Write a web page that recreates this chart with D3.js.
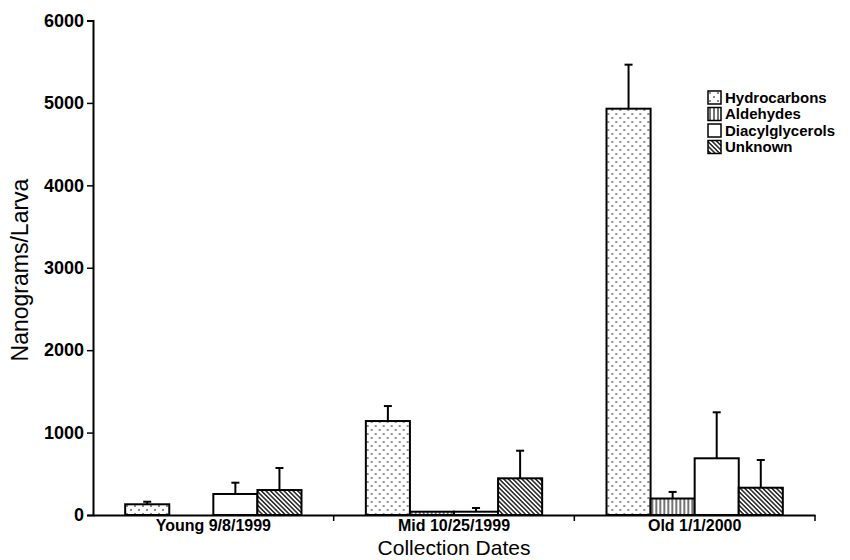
<!DOCTYPE html>
<html>
<head>
<meta charset="utf-8">
<script src="https://cdn.jsdelivr.net/npm/d3@7"></script>
<style>
  body { margin: 0; background: #fff; }
  svg { font-family: "Liberation Sans", Arial, sans-serif; }
</style>
</head>
<body>
<div id="chart"></div>
<script>
/* Lipid classes per larva, grouped bar chart with error bars */

const categories = ["Young 9/8/1999", "Mid 10/25/1999", "Old 1/1/2000"];
const series = ["Hydrocarbons", "Aldehydes", "Diacylglycerols", "Unknown"];

// mean values per collection date
const hydrocarbons = [130, 1140, 4930];
const aldehydes = [0, 40, 200];
const diacylglycerols = [255, 40, 688];
const unknown = [303, 445, 331];

// upper error (SD) per collection date
const hydrocarbonsErr = [31, 182, 534];
const aldehydesErr = [0, 0, 80];
const diacylglycerolsErr = [137, 45, 558];
const unknownErr = [267, 335, 336];

const yTicks = [0, 1000, 2000, 3000, 4000, 5000, 6000];

const values = [hydrocarbons, aldehydes, diacylglycerols, unknown];
const errors = [hydrocarbonsErr, aldehydesErr, diacylglycerolsErr, unknownErr];

const data = categories.map((c, i) => ({
    category: c,
    bars: series.map((s, j) => ({series: s, value: values[j][i], err: errors[j][i]}))
}));

const width = 850,
      height = 560,
      margin = ({top: 20.5, right: 35, bottom: 45, left: 93});

let svg = d3.select("#chart")
    .append("svg")
    .attr("width", width)
    .attr("height", height);

// fill patterns
const defs = svg.append("defs");

let dots = defs.append("pattern")
    .attr("id", "p-dots")
    .attr("patternUnits", "userSpaceOnUse")
    .attr("width", 8).attr("height", 8);
dots.append("rect").attr("width", 8).attr("height", 8).attr("fill", "#fff");
dots.append("circle").attr("cx", 2).attr("cy", 2).attr("r", 0.8).attr("fill", "#000");
dots.append("circle").attr("cx", 6).attr("cy", 6).attr("r", 0.8).attr("fill", "#000");

let vlines = defs.append("pattern")
    .attr("id", "p-vlines")
    .attr("patternUnits", "userSpaceOnUse")
    .attr("width", 4).attr("height", 4);
vlines.append("rect").attr("width", 4).attr("height", 4).attr("fill", "#fff");
vlines.append("line").attr("x1", 2).attr("x2", 2).attr("y1", 0).attr("y2", 4)
    .attr("stroke", "#000").attr("stroke-width", 1.1);

let diag = defs.append("pattern")
    .attr("id", "p-diag")
    .attr("patternUnits", "userSpaceOnUse")
    .attr("width", 3.2).attr("height", 3.2)
    .attr("patternTransform", "rotate(45)");
diag.append("rect").attr("width", 3.2).attr("height", 3.2).attr("fill", "#fff");
diag.append("line").attr("x1", 0).attr("x2", 3.2).attr("y1", 0.8).attr("y2", 0.8)
    .attr("stroke", "#000").attr("stroke-width", 1.3);

const fills = d3.scaleOrdinal()
    .domain(series)
    .range(["url(#p-dots)", "url(#p-vlines)", "#fff", "url(#p-diag)"]);

let x0 = d3.scaleBand()
    .domain(categories)
    .range([margin.left, width - margin.right])
    .padding(0);

let x1 = d3.scaleBand()
    .domain(series)
    .range([0, x0.bandwidth()])
    .paddingInner(0)
    .paddingOuter(0.73);

let y = d3.scaleLinear()
    .domain([0, 6000])
    .range([height - margin.bottom, margin.top]);

// bars
let group = svg.selectAll(".group")
    .data(data)
    .join("g")
    .attr("class", "group")
    .attr("transform", d => `translate(${x0(d.category)},0)`);

let bar = group.selectAll(".bar")
    .data(d => d.bars)
    .join("g")
    .attr("class", "bar");

// error bars (upper only)
bar.filter(d => d.err > 0).append("line")
    .attr("x1", d => x1(d.series) + x1.bandwidth() / 2)
    .attr("x2", d => x1(d.series) + x1.bandwidth() / 2)
    .attr("y1", d => y(d.value))
    .attr("y2", d => y(d.value + d.err))
    .attr("stroke", "#000")
    .attr("stroke-width", 2);

bar.filter(d => d.err > 0).append("line")
    .attr("x1", d => x1(d.series) + x1.bandwidth() / 2 - 4)
    .attr("x2", d => x1(d.series) + x1.bandwidth() / 2 + 4)
    .attr("y1", d => y(d.value + d.err))
    .attr("y2", d => y(d.value + d.err))
    .attr("stroke", "#000")
    .attr("stroke-width", 2);

bar.filter(d => d.value > 0).append("rect")
    .attr("x", d => x1(d.series))
    .attr("width", x1.bandwidth())
    .attr("y", d => y(d.value))
    .attr("height", d => y(0) - y(d.value))
    .attr("fill", d => fills(d.series))
    .attr("stroke", "#000")
    .attr("stroke-width", 2);

// axes
const yAxis = g => g
    .attr("transform", `translate(${margin.left},0)`)
    .call(d3.axisLeft(y).tickValues(yTicks).tickSize(6).tickPadding(3).tickFormat(d3.format("d")))
    .call(g => g.select(".domain").attr("stroke-width", 2))
    .call(g => g.selectAll(".tick line").attr("stroke-width", 1.5))
    .call(g => g.selectAll(".tick text")
        .attr("font-size", 18).attr("font-weight", "bold").attr("fill", "#000")
        .attr("font-family", "'Liberation Sans', Arial, sans-serif"));

const xAxis = g => g
    .attr("transform", `translate(0,${y(0)})`)
    .call(d3.axisBottom(x0).tickSize(0).tickPadding(5))
    .call(g => g.select(".domain").attr("stroke-width", 2))
    .call(g => g.selectAll(".tick text")
        .attr("font-size", 16).attr("font-weight", "bold").attr("fill", "#000")
        .attr("font-family", "'Liberation Sans', Arial, sans-serif"));

svg.append("g").call(yAxis);
svg.append("g").call(xAxis);

// group separator ticks on x axis
svg.append("g")
    .selectAll("line")
    .data(categories)
    .join("line")
    .attr("x1", d => x0(d) + x0.bandwidth())
    .attr("x2", d => x0(d) + x0.bandwidth())
    .attr("y1", y(0))
    .attr("y2", y(0) + 6)
    .attr("stroke", "#000")
    .attr("stroke-width", 1.5);

// axis titles
svg.append("text")
    .attr("x", (margin.left + width - margin.right) / 2)
    .attr("y", 555)
    .attr("text-anchor", "middle")
    .attr("font-size", 21)
    .text("Collection Dates");

svg.append("text")
    .attr("transform", "translate(28,270) rotate(-90)")
    .attr("text-anchor", "middle")
    .attr("font-size", 23)
    .text("Nanograms/Larva");

// legend
let legend = svg.append("g")
    .attr("transform", "translate(708,91)")
    .selectAll("g")
    .data(series)
    .join("g")
    .attr("transform", (d, i) => `translate(0,${i * 16.5})`);

legend.append("rect")
    .attr("width", 13)
    .attr("height", 13)
    .attr("fill", d => fills(d))
    .attr("stroke", "#000")
    .attr("stroke-width", 1.5);

legend.append("text")
    .attr("x", 17)
    .attr("y", 11.5)
    .attr("font-size", 15)
    .attr("font-weight", "bold")
    .text(d => d);
</script>
</body>
</html>
